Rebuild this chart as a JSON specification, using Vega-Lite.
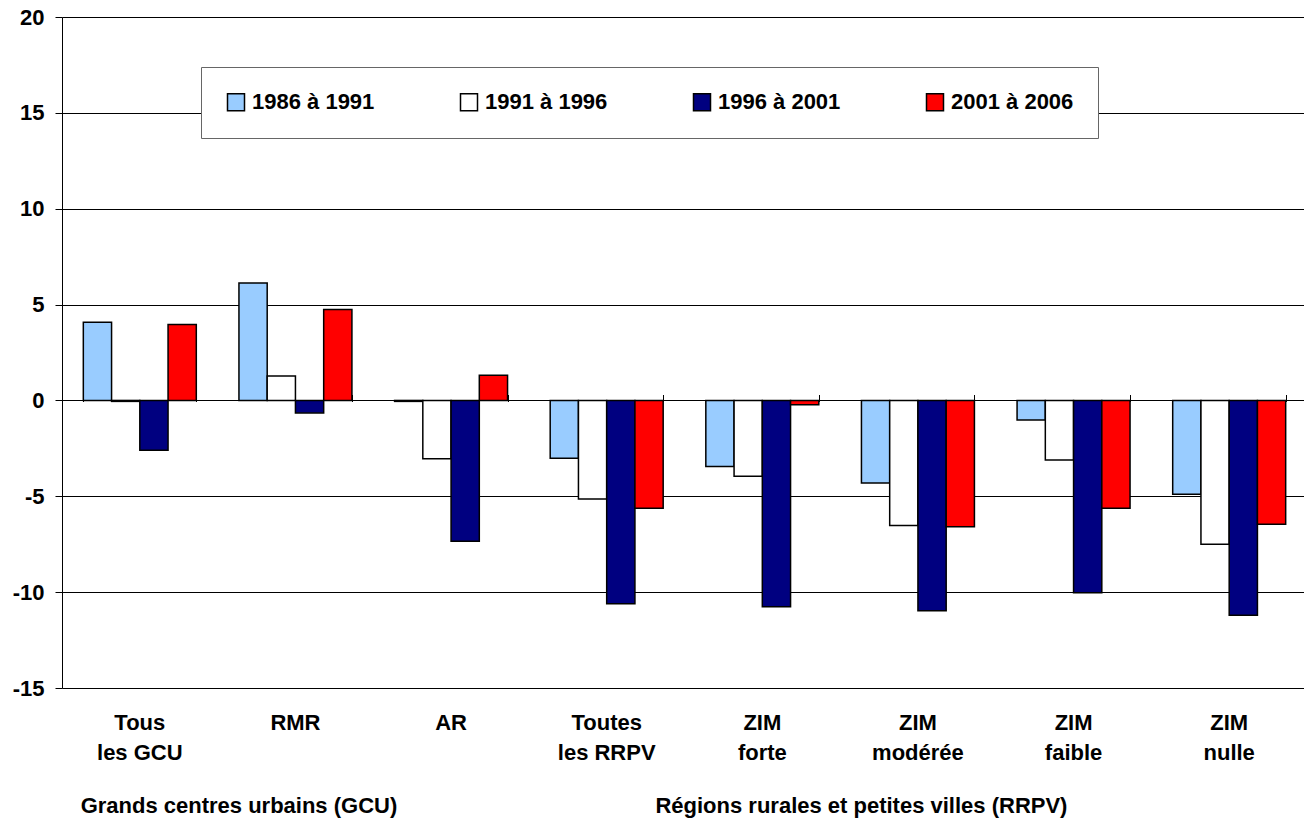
{
  "$schema": "https://vega.github.io/schema/vega-lite/v6.json",
  "width": 1245,
  "height": 671,
  "autosize": {"type": "none"},
  "padding": {"left": 62, "top": 17, "right": 0, "bottom": 145},
  "background": "white",
  "config": {"view": {"stroke": null}, "font": "Liberation Sans"},
  "datasets": {
    "bars": [
      {"cat": "Tous les GCU", "period": "1986 à 1991", "value": 4.08},
      {"cat": "Tous les GCU", "period": "1991 à 1996", "value": -0.05},
      {"cat": "Tous les GCU", "period": "1996 à 2001", "value": -2.6},
      {"cat": "Tous les GCU", "period": "2001 à 2006", "value": 3.96},
      {"cat": "RMR", "period": "1986 à 1991", "value": 6.13},
      {"cat": "RMR", "period": "1991 à 1996", "value": 1.28},
      {"cat": "RMR", "period": "1996 à 2001", "value": -0.65},
      {"cat": "RMR", "period": "2001 à 2006", "value": 4.74},
      {"cat": "AR", "period": "1986 à 1991", "value": -0.05},
      {"cat": "AR", "period": "1991 à 1996", "value": -3.04},
      {"cat": "AR", "period": "1996 à 2001", "value": -7.35},
      {"cat": "AR", "period": "2001 à 2006", "value": 1.31},
      {"cat": "Toutes les RRPV", "period": "1986 à 1991", "value": -3.02},
      {"cat": "Toutes les RRPV", "period": "1991 à 1996", "value": -5.14},
      {"cat": "Toutes les RRPV", "period": "1996 à 2001", "value": -10.6},
      {"cat": "Toutes les RRPV", "period": "2001 à 2006", "value": -5.63},
      {"cat": "ZIM forte", "period": "1986 à 1991", "value": -3.45},
      {"cat": "ZIM forte", "period": "1991 à 1996", "value": -3.96},
      {"cat": "ZIM forte", "period": "1996 à 2001", "value": -10.76},
      {"cat": "ZIM forte", "period": "2001 à 2006", "value": -0.22},
      {"cat": "ZIM modérée", "period": "1986 à 1991", "value": -4.31},
      {"cat": "ZIM modérée", "period": "1991 à 1996", "value": -6.52},
      {"cat": "ZIM modérée", "period": "1996 à 2001", "value": -10.97},
      {"cat": "ZIM modérée", "period": "2001 à 2006", "value": -6.59},
      {"cat": "ZIM faible", "period": "1986 à 1991", "value": -1.02},
      {"cat": "ZIM faible", "period": "1991 à 1996", "value": -3.11},
      {"cat": "ZIM faible", "period": "1996 à 2001", "value": -10.03},
      {"cat": "ZIM faible", "period": "2001 à 2006", "value": -5.63},
      {"cat": "ZIM nulle", "period": "1986 à 1991", "value": -4.9},
      {"cat": "ZIM nulle", "period": "1991 à 1996", "value": -7.5},
      {"cat": "ZIM nulle", "period": "1996 à 2001", "value": -11.21},
      {"cat": "ZIM nulle", "period": "2001 à 2006", "value": -6.46}
    ],
    "groups": [
      {"grp": "GCU", "cat": "RMR", "label": "Grands centres urbains (GCU)", "ypos": -21.16},
      {"grp": "RRPV", "cat": "ZIM modérée", "label": "Régions rurales et petites villes (RRPV)", "ypos": -21.16}
    ]
  },
  "resolve": {"axis": {"x": "independent"}},
  "layer": [
    {
      "data": {"name": "bars"},
      "mark": {"type": "bar", "stroke": "black", "strokeWidth": 1.5},
      "encoding": {
        "x": {
          "field": "cat",
          "type": "nominal",
          "sort": null,
          "scale": {
            "domain": ["Tous les GCU", "RMR", "AR", "Toutes les RRPV", "ZIM forte", "ZIM modérée", "ZIM faible", "ZIM nulle"],
            "paddingInner": 0.274,
            "paddingOuter": 0.137
          },
          "axis": {
            "orient": "bottom",
            "title": null,
            "labelAngle": 0,
            "labelFontSize": 22,
            "labelFontWeight": "bold",
            "labelColor": "black",
            "labelBaseline": "top",
            "labelPadding": 24,
            "labelLineHeight": 30,
            "ticks": false,
            "domain": false,
            "grid": false,
            "labelExpr": "split(replace(datum.value, ' ', '|'), '|')"
          }
        },
        "xOffset": {
          "field": "period",
          "type": "nominal",
          "sort": ["1986 à 1991", "1991 à 1996", "1996 à 2001", "2001 à 2006"]
        },
        "y": {
          "field": "value",
          "type": "quantitative",
          "scale": {"domain": [-15, 20], "nice": false, "zero": false},
          "axis": {
            "title": null,
            "values": [-15, -10, -5, 0, 5, 10, 15, 20],
            "labelExpr": "'' + datum.value",
            "grid": true,
            "gridColor": "black",
            "tickSize": 7,
            "tickColor": "black",
            "domain": true,
            "domainColor": "black",
            "labelFontSize": 22,
            "labelFontWeight": "bold",
            "labelColor": "black",
            "labelPadding": 11
          }
        },
        "color": {
          "field": "period",
          "type": "nominal",
          "scale": {
            "domain": ["1986 à 1991", "1991 à 1996", "1996 à 2001", "2001 à 2006"],
            "range": ["#99CCFF", "#FFFFFF", "#000080", "#FF0000"]
          },
          "legend": {
            "title": null,
            "orient": "none",
            "legendX": 139,
            "legendY": 50,
            "direction": "horizontal",
            "columns": 4,
            "symbolType": "square",
            "symbolSize": 289,
            "symbolStrokeColor": "black",
            "labelFontSize": 22,
            "labelFontWeight": "bold",
            "labelColor": "black",
            "labelOffset": 5,
            "columnPadding": 82,
            "padding": 24,
            "fillColor": "white",
            "strokeColor": "#666666"
          }
        }
      }
    },
    {
      "data": {"name": "groups"},
      "mark": {"type": "text", "fontSize": 22, "fontWeight": "bold", "baseline": "middle", "align": "center", "color": "black"},
      "encoding": {
        "x": {
          "field": "cat",
          "type": "nominal",
          "bandPosition": 0,
          "axis": {
            "orient": "bottom",
            "offset": -293.5,
            "title": null,
            "labels": false,
            "domain": false,
            "grid": false,
            "ticks": true,
            "tickBand": "extent",
            "tickSize": 7,
            "tickColor": "black"
          }
        },
        "y": {"field": "ypos", "type": "quantitative"},
        "text": {"field": "label"}
      }
    }
  ]
}
